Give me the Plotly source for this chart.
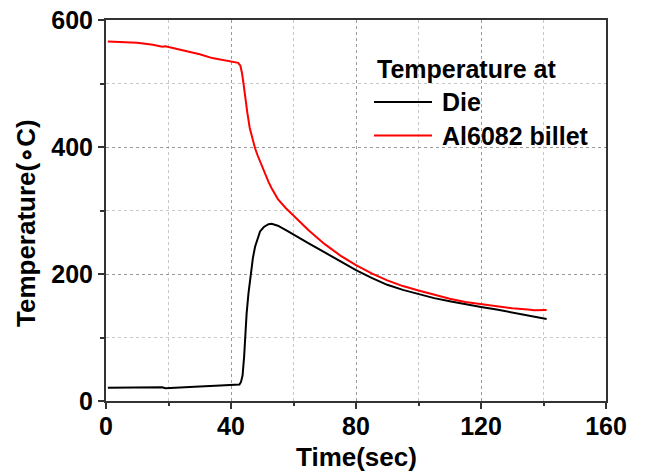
import plotly.graph_objects as go

# Die temperature (black)
die_t = [0.6, 10, 17, 18, 19, 25, 30, 35, 40, 42.7, 43.2, 43.7, 44.2, 44.6, 45, 45.6, 46.3, 47,
         47.7, 48.5, 49.3, 50.5, 52, 53, 55, 58, 60, 65, 70, 75, 80, 85, 90, 95, 100, 105, 110,
         115, 120, 125, 130, 135, 141]
die_T = [21, 21, 20.5, 21.5, 20, 22, 23, 24, 25, 26, 30, 40, 70, 105, 138, 170, 201, 225,
         243, 257, 267, 274, 278.5, 279, 276, 268, 262, 248, 234, 220, 206, 194, 183, 175, 168, 162, 157,
         152, 148, 144, 139, 135, 129]

# Al6082 billet temperature (red)
bil_t = [0.6, 5, 10, 15, 18, 19, 22, 26, 30, 34, 38, 42.3, 43, 43.5, 44, 44.5, 45.2, 46, 47,
         47.7, 48.5, 49.3, 50, 51, 52, 53, 55, 57.5, 60, 65, 70, 75, 80, 85, 90, 95, 100, 105, 110, 115,
         120, 125, 130, 135, 137, 141]
bil_T = [566, 565.5, 564, 561, 558, 558.5, 555, 551, 546, 540, 536, 532.5, 528, 517, 500, 480, 455, 430, 410,
         398, 387, 377, 368, 356, 345, 335, 318, 304, 292, 268, 247, 229, 214, 201, 190, 181, 174, 167, 161, 156,
         152.5, 149, 146, 144, 143, 143.5]

legend_title = "Temperature at"
series_names = ["Die", "Al6082 billet"]
series_colors = ["#000000", "#ff0000"]

FONT = "Liberation Sans, Arial, sans-serif"
FS = 25

fig = go.Figure()
fig.add_trace(go.Scatter(x=die_t, y=die_T, mode="lines", name=series_names[0],
                         line=dict(color=series_colors[0], width=2), showlegend=False))
fig.add_trace(go.Scatter(x=bil_t, y=bil_T, mode="lines", name=series_names[1],
                         line=dict(color=series_colors[1], width=2), showlegend=False))

W, H = 646, 472
L, R, T, B = 106, 40, 20, 71
pw, ph = W - L - R, H - T - B

def px(x):
    return (x - L) / pw

def py(y):
    return (H - B - y) / ph

# manual legend
fig.add_annotation(x=px(375), y=py(69), xref="paper", yref="paper", text="<b>%s</b>" % legend_title,
                   showarrow=False, xanchor="left", yanchor="middle",
                   font=dict(family=FONT, size=FS, color="black"))
for i, (nm, col) in enumerate(zip(series_names, series_colors)):
    yy = [102, 135.5][i]
    fig.add_shape(type="line", xref="paper", yref="paper", x0=px(374), x1=px(432), y0=py(yy), y1=py(yy),
                  line=dict(color=col, width=2))
    fig.add_annotation(x=px(440), y=py(yy), xref="paper", yref="paper", text="<b>%s</b>" % nm,
                       showarrow=False, xanchor="left", yanchor="middle",
                       font=dict(family=FONT, size=FS, color="black"))

# axis titles
fig.add_annotation(x=px(26), y=py(223), xref="paper", yref="paper", text="<b>Temperature(∘C)</b>",
                   showarrow=False, textangle=-90, xanchor="center", yanchor="middle",
                   font=dict(family=FONT, size=26, color="black"))
fig.add_annotation(x=px(356), y=py(457), xref="paper", yref="paper", text="<b>Time(sec)</b>",
                   showarrow=False, xanchor="center", yanchor="middle",
                   font=dict(family=FONT, size=26, color="black"))

axis_common = dict(
    showline=True, linecolor="#333333", linewidth=2, mirror=True,
    ticks="outside", ticklen=6, tickwidth=1.5, tickcolor="#333333",
    showgrid=True, gridcolor="#9a9a9a", griddash="dot", gridwidth=1,
    zeroline=False, automargin=False, ticklabeloverflow="allow",
    tickfont=dict(family=FONT, size=FS, color="black"),
)

fig.update_xaxes(range=[0, 160], tickvals=[0, 40, 80, 120, 160], ticktext=["<b>0</b>", "<b>40</b>", "<b>80</b>", "<b>120</b>", "<b>160</b>"],
                 minor=dict(tickvals=[20, 60, 100, 140], ticks="outside", ticklen=3, tickcolor="#333333",
                            showgrid=True, gridcolor="#c8c8c8", griddash="dot"),
                 ticklabelstandoff=-4,
                 **axis_common)
fig.update_yaxes(range=[0, 600], tickvals=[0, 200, 400, 600], ticktext=["<b>0</b>", "<b>200</b>", "<b>400</b>", "<b>600</b>"],
                 minor=dict(tickvals=[100, 300, 500], ticks="outside", ticklen=4, tickcolor="#333333",
                            showgrid=True, gridcolor="#c8c8c8", griddash="dot"),
                 **axis_common)

fig.update_layout(width=W, height=H, margin=dict(l=L, r=R, t=T, b=B),
                  plot_bgcolor="white", paper_bgcolor="white",
                  font=dict(family=FONT, color="black"))

fig.write_html("out.html", config={"displayModeBar": False},
               post_script="document.body.style.margin='0';")
